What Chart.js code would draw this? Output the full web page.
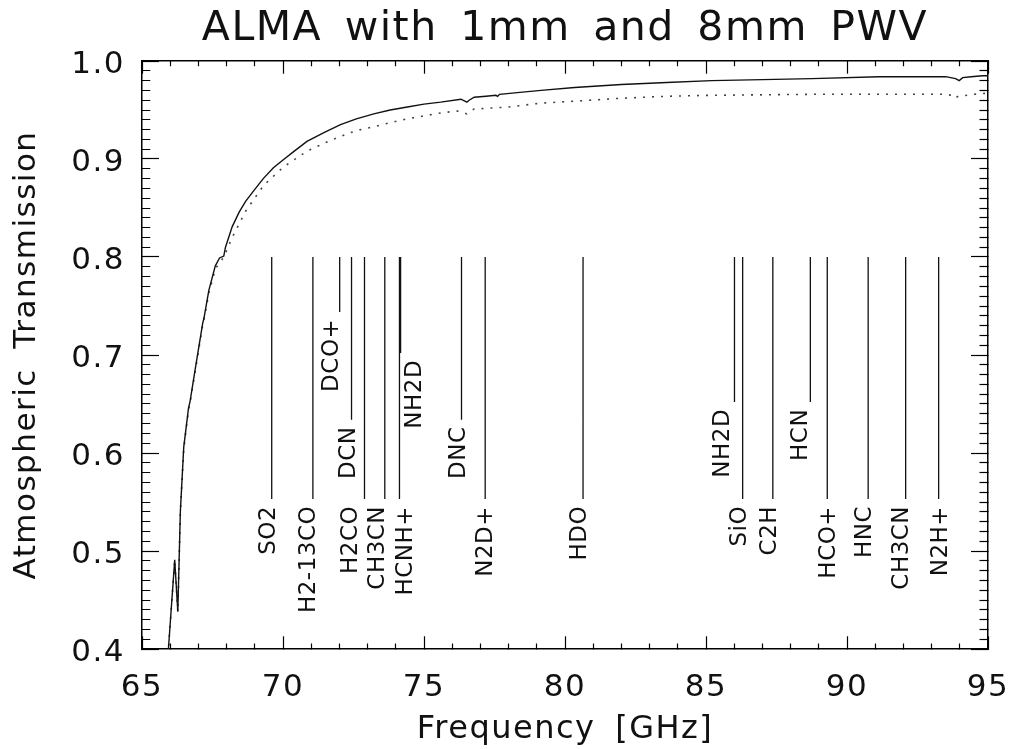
<!DOCTYPE html>
<html>
<head>
<meta charset="utf-8">
<title>ALMA with 1mm and 8mm PWV</title>
<script src="https://cdn.jsdelivr.net/npm/chart.js@4.4.0/dist/chart.umd.min.js"></script>
<style>
  html, body { margin: 0; padding: 0; background: #fff; }
  #wrap { width: 1010px; height: 749px; }
</style>
</head>
<body>
<div id="wrap"><canvas id="pwvChart" width="1010" height="749"></canvas></div>
<script>
// transmission curves (GHz / fraction)
const freq1mm = [65.90, 66.16, 66.27, 66.36, 66.48, 66.65, 66.70, 66.89, 67.15, 67.20, 67.37, 67.60, 67.75, 67.90, 67.96,
                 68.20, 68.45, 68.68, 69.00, 69.30, 69.66, 70.00, 70.40, 70.85, 71.45, 72.04, 72.60, 73.22, 73.80,
                 74.41, 75.00, 75.59, 76.31, 76.45, 76.52, 76.60, 76.78, 77.20, 77.55, 77.61, 77.68, 78.40, 79.15,
                 80.34, 82.00, 83.60, 85.20, 87.00, 88.76, 91.13, 93.50, 93.85, 93.98, 94.10, 94.40, 94.81, 95.00];
const trans1mm = [0.385, 0.491, 0.438, 0.540, 0.606, 0.646, 0.652, 0.686, 0.732, 0.738, 0.766, 0.791, 0.799, 0.801, 0.810,
                  0.831, 0.846, 0.857, 0.869, 0.880, 0.891, 0.899, 0.908, 0.918, 0.927, 0.935, 0.941, 0.946, 0.950,
                  0.953, 0.956, 0.958, 0.961, 0.959, 0.958, 0.960, 0.963, 0.964, 0.965, 0.964, 0.966, 0.968, 0.970,
                  0.973, 0.976, 0.978, 0.980, 0.981, 0.982, 0.984, 0.984, 0.982, 0.980, 0.983, 0.984, 0.985, 0.985];

const freq8mm = [65.90, 66.16, 66.27, 66.36, 66.48, 66.65, 66.70, 66.89, 67.15, 67.20, 67.37, 67.60, 67.75, 67.90, 68.20,
                 68.68, 69.31, 70.02, 70.85, 71.45, 72.04, 72.60, 73.22, 73.80, 74.41, 75.00, 75.59, 76.19, 76.35,
                 76.52, 76.65, 76.78, 77.97, 79.15, 80.34, 82.00, 83.60, 85.20, 88.76, 92.30, 93.50, 93.70, 93.80,
                 93.95, 94.50, 94.90, 95.00];
const trans8mm = [0.385, 0.491, 0.438, 0.540, 0.604, 0.644, 0.650, 0.684, 0.730, 0.736, 0.763, 0.788, 0.794, 0.800, 0.820,
                  0.847, 0.873, 0.892, 0.908, 0.916, 0.923, 0.929, 0.933, 0.937, 0.941, 0.944, 0.947, 0.949, 0.948,
                  0.946, 0.949, 0.951, 0.953, 0.957, 0.959, 0.962, 0.964, 0.965, 0.966, 0.966, 0.966, 0.965, 0.962,
                  0.964, 0.966, 0.967, 0.967];

// molecular line markers
const molecules  = ['SO2', 'H2-13CO', 'DCO+', 'DCN', 'H2CO', 'CH3CN', 'HCNH+', 'NH2D', 'DNC', 'N2D+', 'HDO',
                    'NH2D', 'SiO', 'C2H', 'HCN', 'HCO+', 'HNC', 'CH3CN', 'N2H+'];
const lineFreqs  = [69.60, 71.06, 72.01, 72.43, 72.89, 73.61, 74.13, 74.17, 76.33, 77.17, 80.64,
                    86.01, 86.30, 87.37, 88.70, 89.30, 90.75, 92.08, 93.25];
const lineEnds   = [0.553, 0.553, 0.744, 0.634, 0.553, 0.553, 0.553, 0.702, 0.634, 0.553, 0.553,
                    0.652, 0.553, 0.553, 0.652, 0.553, 0.553, 0.553, 0.553];
const labelFreqs = [69.49, 70.92, 71.74, 72.33, 72.43, 73.36, 74.35, 74.67, 76.25, 77.20, 80.52,
                    85.62, 86.21, 87.28, 88.38, 89.38, 90.64, 91.96, 93.33];
const lineTop = 0.8;

const xTickLabels = [65, 70, 75, 80, 85, 90, 95];
const yTickLabels = [0.4, 0.5, 0.6, 0.7, 0.8, 0.9, 1.0];

const FONT = "'DejaVu Sans', sans-serif";
const INK = '#111';
const labelGap = 0.007;

Chart.defaults.font.family = FONT;
Chart.defaults.color = INK;

const isMajorX = v => xTickLabels.includes(v);
const isMajorY = v => yTickLabels.some(t => Math.abs(t - v) < 1e-6);

// vertical marker segments, split with null gaps
const lineData = [];
molecules.forEach((m, i) => {
    lineData.push({ x: lineFreqs[i], y: lineTop }, { x: lineFreqs[i], y: lineEnds[i] }, { x: lineFreqs[i], y: null });
});

// IDL-ish wide lettering
const spacingPlugin = {
    id: 'idlSpacing',
    beforeDraw(chart) {
        chart.ctx.letterSpacing = '1.5px';
        chart.ctx.wordSpacing = '8px';
    },
    afterDraw(chart) {
        chart.ctx.letterSpacing = '0px';
        chart.ctx.wordSpacing = '0px';
    }
};

// rotated molecule names under each marker
const lineLabelPlugin = {
    id: 'lineLabels',
    afterDatasetsDraw(chart) {
        const { ctx, scales: { x, y } } = chart;
        ctx.save();
        ctx.font = '23px ' + FONT;
        ctx.fillStyle = INK;
        ctx.letterSpacing = '0.5px';
        ctx.wordSpacing = '0px';
        ctx.textAlign = 'right';
        ctx.textBaseline = 'middle';
        molecules.forEach((name, i) => {
            ctx.save();
            ctx.translate(x.getPixelForValue(labelFreqs[i]), y.getPixelForValue(lineEnds[i] - labelGap));
            ctx.rotate(-Math.PI / 2);
            ctx.fillText(name, 0, 0);
            ctx.restore();
        });
        ctx.restore();
    }
};

const frame = { display: true, color: '#000', width: 1.5 };

function gridFor(len, isMajor, minorDash) {
    return {
        drawOnChartArea: false,
        drawTicks: true,
        tickLength: len,
        tickColor: '#000',
        tickWidth: 1.2,
        tickBorderDash: c => (c.tick && !isMajor(c.tick.value)) ? minorDash : []
    };
}

// fixed box sizes so the frame sits where the original has it
function fixSize(w, h) {
    return s => {
        if (w !== null) s.width = w;
        if (h !== null) s.height = h;
        s.paddingLeft = 0;
        s.paddingRight = 0;
        s.paddingTop = 0;
        s.paddingBottom = 0;
    };
}

new Chart(document.getElementById('pwvChart'), {
    type: 'line',
    data: {
        datasets: [
            {
                label: '1mm PWV',
                data: freq1mm.map((f, i) => ({ x: f, y: trans1mm[i] })),
                borderColor: '#111',
                borderWidth: 1.4,
                pointRadius: 0,
                tension: 0,
                fill: false
            },
            {
                label: '8mm PWV',
                data: freq8mm.map((f, i) => ({ x: f, y: trans8mm[i] })),
                borderColor: '#444',
                borderWidth: 1.6,
                borderDash: [2, 7],
                pointRadius: 0,
                tension: 0,
                fill: false
            },
            {
                label: 'lines',
                data: lineData,
                borderColor: '#111',
                borderWidth: 1.3,
                pointRadius: 0,
                spanGaps: false,
                fill: false
            }
        ]
    },
    options: {
        responsive: false,
        animation: false,
        events: [],
        layout: { padding: 0 },
        plugins: {
            legend: { display: false },
            tooltip: { enabled: false },
            title: {
                display: true,
                fullSize: false,
                text: 'ALMA with 1mm and 8mm PWV',
                color: INK,
                font: { family: FONT, size: 41, weight: 'normal', lineHeight: 1.2 },
                padding: { top: 5, bottom: 6.8 }
            }
        },
        scales: {
            x: {
                type: 'linear',
                position: 'bottom',
                min: 65,
                max: 95,
                afterFit: fixSize(null, 100),
                border: frame,
                grid: gridFor(-12.7, isMajorX, [6, 100]),
                ticks: {
                    stepSize: 1,
                    autoSkip: false,
                    maxRotation: 0,
                    minRotation: 0,
                    padding: 33,
                    color: INK,
                    font: { size: 31 },
                    callback: v => isMajorX(v) ? String(v) : ''
                },
                title: {
                    display: true,
                    text: 'Frequency [GHz]',
                    color: INK,
                    font: { size: 32, lineHeight: 1.2 },
                    padding: { top: 0, bottom: 0 }
                }
            },
            x2: {
                type: 'linear',
                position: 'top',
                min: 65,
                max: 95,
                afterFit: fixSize(null, 0),
                border: frame,
                grid: gridFor(-12.7, isMajorX, [0, 7.5, 6, 100]),
                ticks: { stepSize: 1, autoSkip: false, display: false }
            },
            y: {
                type: 'linear',
                position: 'left',
                min: 0.4,
                max: 1.0,
                afterFit: fixSize(142, null),
                border: frame,
                grid: gridFor(-17, isMajorY, [0, 8.75, 9, 100]),
                ticks: {
                    stepSize: 0.01,
                    maxTicksLimit: 100,
                    autoSkip: false,
                    padding: 34,
                    labelOffset: 4,
                    color: INK,
                    font: { size: 31 },
                    callback: v => {
                        const t = yTickLabels.find(l => Math.abs(l - v) < 1e-6);
                        return t === undefined ? '' : t.toFixed(1);
                    }
                },
                title: {
                    display: true,
                    text: 'Atmospheric Transmission',
                    color: INK,
                    font: { size: 31, lineHeight: 1.2 },
                    padding: { top: 8, bottom: 0 }
                }
            },
            y2: {
                type: 'linear',
                position: 'right',
                min: 0.4,
                max: 1.0,
                afterFit: fixSize(22, null),
                border: frame,
                grid: gridFor(-17, isMajorY, [9, 100]),
                ticks: { stepSize: 0.01, maxTicksLimit: 100, autoSkip: false, display: false }
            }
        }
    },
    plugins: [spacingPlugin, lineLabelPlugin]
});
</script>
</body>
</html>
